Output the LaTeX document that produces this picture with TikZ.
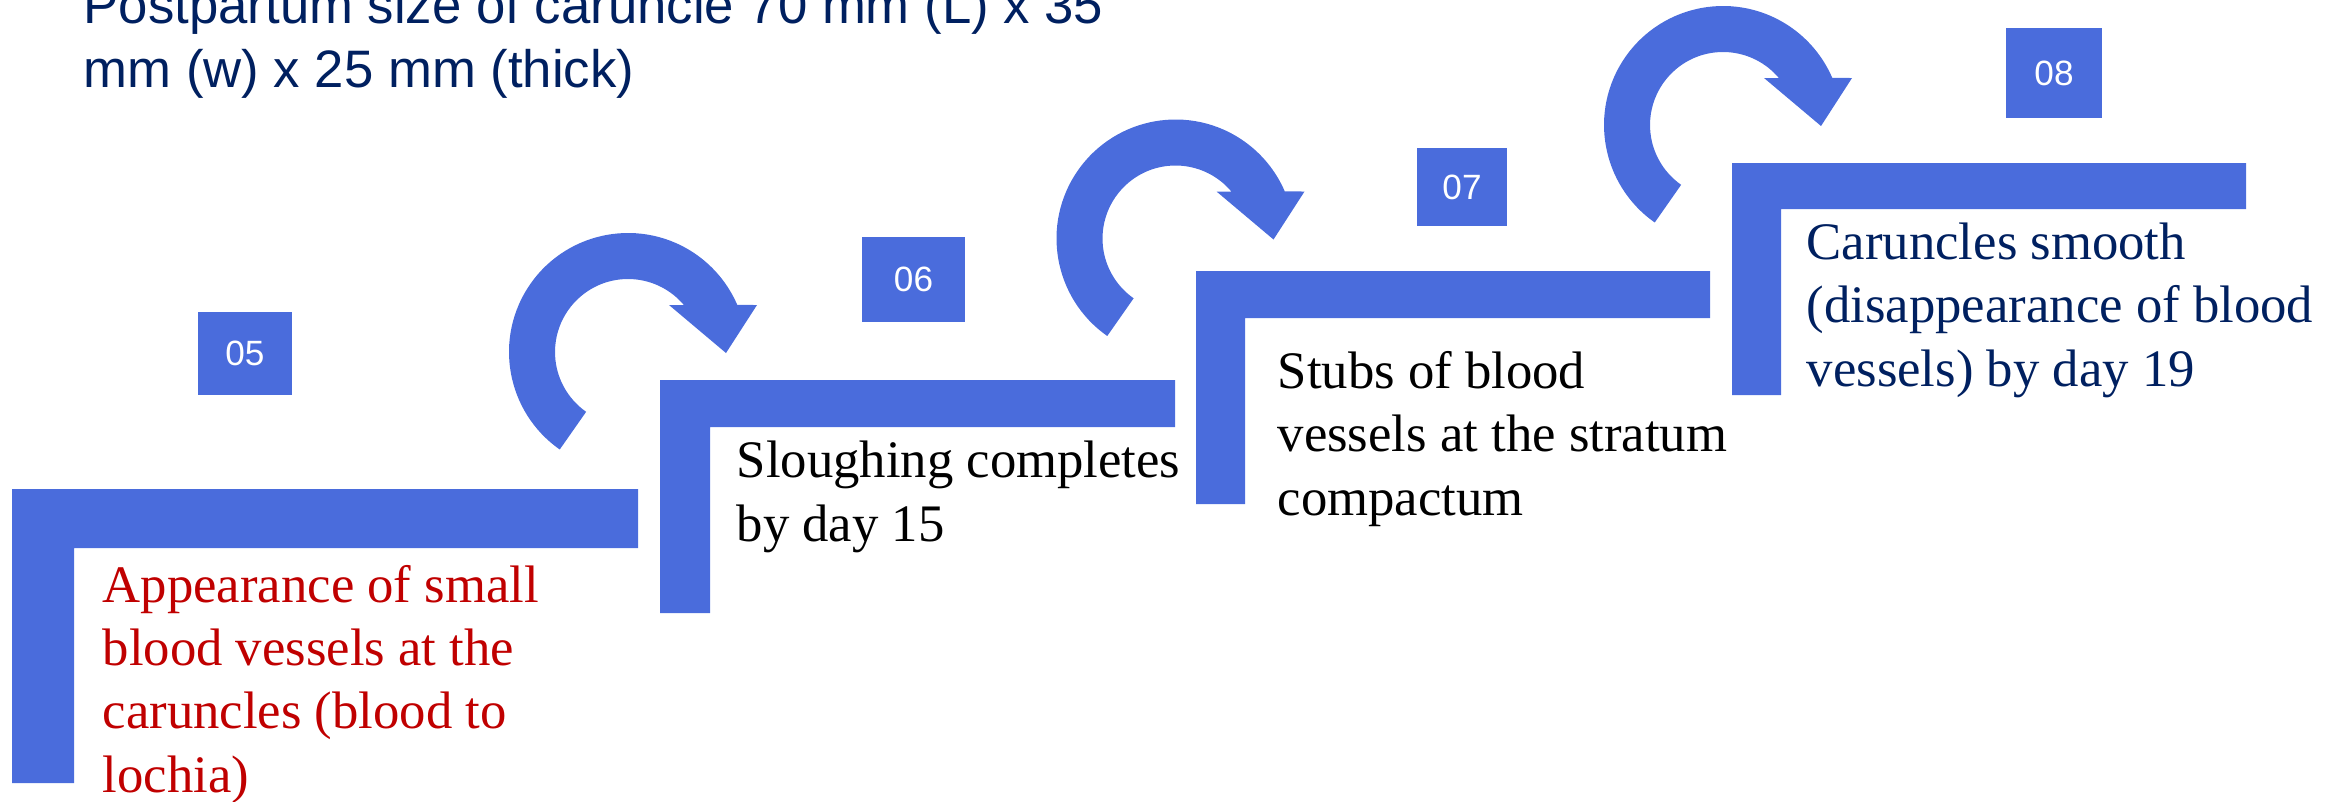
\documentclass[tikz,border=0pt]{standalone}
\usepackage{fontspec}
\setmainfont{Liberation Serif}
\setsansfont{Liberation Sans}
\usepackage{xcolor}
\usepackage{tikz}
\usetikzlibrary{positioning}
\definecolor{StepBlue}{HTML}{4A6CDC}
\definecolor{Navy}{HTML}{002060}
\definecolor{DarkRed}{HTML}{C00000}

\begin{document}
\begin{tikzpicture}[
  x=0.1mm,y=-0.1mm,
  bar/.style={fill=StepBlue},
  numbox/.style={fill=StepBlue,text=white,inner sep=0pt,font=\sffamily\fontsize{10}{12}\selectfont},
  stagetext/.style={anchor=base west,align=left,inner sep=0pt,font=\fontsize{15}{18}\selectfont},
  headline/.style={anchor=base west,align=left,inner sep=0pt,text=Navy,font=\sffamily\fontsize{15}{18.2}\selectfont},
  turnarrow/.pic={
    \fill[StepBlue] (-235:119) arc[start angle=-235,end angle=-23.3,radius=119]
      -- (129,-47) -- (98,1) -- (41,-47) -- (-40:73)
      arc[start angle=-40,end angle=-235,radius=73] -- cycle;
  }
]
\useasboundingbox (0,0) rectangle (2351,801);

% last baselines are given for the text blocks
\node[headline] (title) at (83,87) {Postpartum size of caruncle 70 mm (L) x 35\\mm (w) x 25 mm (thick)};

% stage 05
\fill[bar] (12,489) -- (638,489) -- (638,548) -- (74,548) -- (74,783) -- (12,783) -- cycle;
\node[numbox,minimum width=9.4mm,minimum height=8.3mm] (n5) at (245,353.5) {05};
\node[stagetext,text=DarkRed] (t5) at (102,792) {Appearance of small\\blood vessels at the\\caruncles (blood to\\lochia)};

% stage 06
\fill[bar] (660,380) -- (1175,380) -- (1175,427) -- (710,427) -- (710,613) -- (660,613) -- cycle;
\node[numbox,minimum width=10.3mm,minimum height=8.5mm] (n6) at (913.5,279.5) {06};
\node[stagetext] (t6) at (736,541) {Sloughing completes\\by day 15};

% stage 07
\fill[bar] (1196,271) -- (1710,271) -- (1710,318) -- (1245,318) -- (1245,504) -- (1196,504) -- cycle;
\node[numbox,minimum width=9mm,minimum height=7.8mm] (n7) at (1462,187) {07};
\node[stagetext] (t7) at (1277,515) {Stubs of blood\\vessels at the stratum\\compactum};

% stage 08
\fill[bar] (1732,163) -- (2246,163) -- (2246,209) -- (1781,209) -- (1781,395) -- (1732,395) -- cycle;
\node[numbox,minimum width=9.6mm,minimum height=9mm] (n8) at (2054,73) {08};
\node[stagetext,text=Navy] (t8) at (1806,386) {Caruncles smooth\\(disappearance of blood\\vessels) by day 19};

% turning arrows
\pic at (628,352) {turnarrow};
\pic at (1175.5,238.5) {turnarrow};
\pic at (1723,125) {turnarrow};
\end{tikzpicture}
\end{document}
